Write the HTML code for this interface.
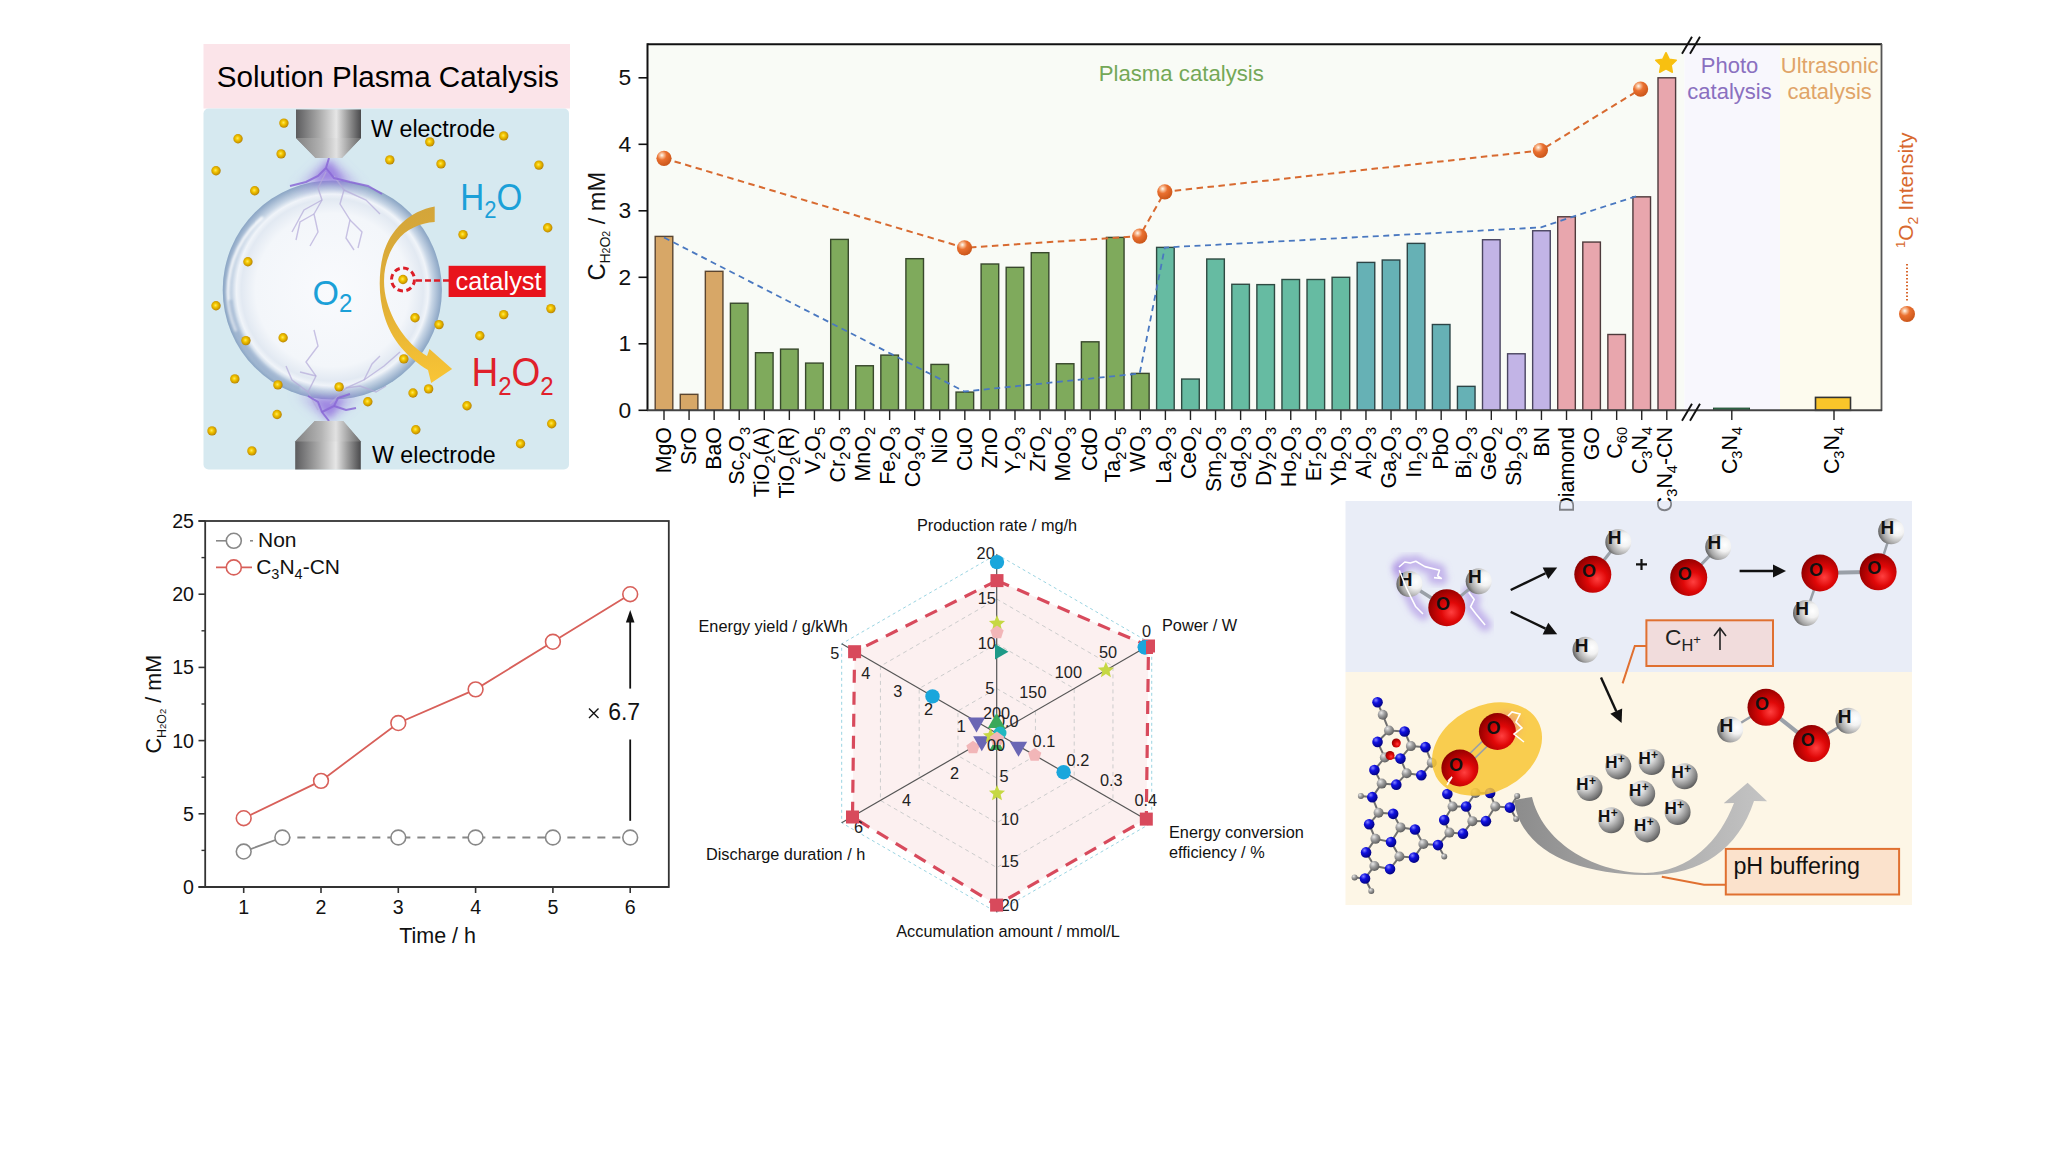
<!DOCTYPE html>
<html><head><meta charset="utf-8"><title>Solution Plasma Catalysis</title>
<style>html,body{margin:0;padding:0;background:#fff;width:2048px;height:1151px;overflow:hidden}svg{display:block}text{font-family:"Liberation Sans", sans-serif}</style>
</head><body>
<svg width="2048" height="1151" viewBox="0 0 2048 1151" font-family='"Liberation Sans", sans-serif'>

<defs>
 <radialGradient id="gOrange" cx="0.36" cy="0.3" r="0.75">
  <stop offset="0" stop-color="#fffaf2"/>
  <stop offset="0.2" stop-color="#f6b68c"/>
  <stop offset="0.42" stop-color="#ea7030"/>
  <stop offset="1" stop-color="#c85418"/>
 </radialGradient>
 <radialGradient id="gRed" cx="0.62" cy="0.62" r="0.75">
  <stop offset="0" stop-color="#ff4040"/>
  <stop offset="0.35" stop-color="#e00808"/>
  <stop offset="0.8" stop-color="#9a0000"/>
  <stop offset="1" stop-color="#6a0000"/>
 </radialGradient>
 <radialGradient id="gWhite" cx="0.75" cy="0.42" r="0.85">
  <stop offset="0" stop-color="#ffffff"/>
  <stop offset="0.3" stop-color="#f2f2f2"/>
  <stop offset="0.7" stop-color="#a4a4a4"/>
  <stop offset="1" stop-color="#3c3c3c"/>
 </radialGradient>
 <radialGradient id="gGray" cx="0.35" cy="0.3" r="0.85">
  <stop offset="0" stop-color="#ffffff"/>
  <stop offset="0.3" stop-color="#d8d8d8"/>
  <stop offset="0.75" stop-color="#7a7a7a"/>
  <stop offset="1" stop-color="#3a3a3a"/>
 </radialGradient>
 <radialGradient id="gGold" cx="0.45" cy="0.45" r="0.6">
  <stop offset="0" stop-color="#ffe860"/>
  <stop offset="0.35" stop-color="#f4c800"/>
  <stop offset="0.8" stop-color="#c89400"/>
  <stop offset="1" stop-color="#a07000"/>
 </radialGradient>
 <radialGradient id="gBlueN" cx="0.35" cy="0.3" r="0.8">
  <stop offset="0" stop-color="#8080ff"/>
  <stop offset="0.35" stop-color="#1010e0"/>
  <stop offset="1" stop-color="#000070"/>
 </radialGradient>
 <radialGradient id="gGrayC" cx="0.35" cy="0.3" r="0.8">
  <stop offset="0" stop-color="#e8e8e8"/>
  <stop offset="0.4" stop-color="#a0a0a0"/>
  <stop offset="1" stop-color="#505050"/>
 </radialGradient>
 <linearGradient id="gMetal" x1="0" y1="0" x2="1" y2="0">
  <stop offset="0" stop-color="#5c5c5e"/>
  <stop offset="0.35" stop-color="#a8a8a8"/>
  <stop offset="0.62" stop-color="#e6e6e6"/>
  <stop offset="0.8" stop-color="#9a9a9a"/>
  <stop offset="1" stop-color="#4a4a4c"/>
 </linearGradient>
 <linearGradient id="gMetal2" x1="0" y1="0" x2="1" y2="0">
  <stop offset="0" stop-color="#8a8a8a"/>
  <stop offset="0.4" stop-color="#b4b4b4"/>
  <stop offset="0.62" stop-color="#e0e0e0"/>
  <stop offset="0.85" stop-color="#9a9a9a"/>
  <stop offset="1" stop-color="#707070"/>
 </linearGradient>
 <radialGradient id="gBubble" cx="0.5" cy="0.5" r="0.5">
  <stop offset="0" stop-color="#f9fafd"/>
  <stop offset="0.7" stop-color="#f3f6fa"/>
  <stop offset="0.83" stop-color="#e2e9f2"/>
  <stop offset="0.875" stop-color="#f0f4f9"/>
  <stop offset="0.915" stop-color="#c8d6e6"/>
  <stop offset="0.97" stop-color="#a0b6d0"/>
  <stop offset="1" stop-color="#8aa5c4"/>
 </radialGradient>
 <radialGradient id="gGlow" cx="0.5" cy="0.5" r="0.5">
  <stop offset="0" stop-color="#9070e0" stop-opacity="0.75"/>
  <stop offset="0.5" stop-color="#a088e8" stop-opacity="0.4"/>
  <stop offset="1" stop-color="#b0a0f0" stop-opacity="0"/>
 </radialGradient>
 <linearGradient id="gYArrow" x1="0" y1="0" x2="0" y2="1">
  <stop offset="0" stop-color="#d3a53a"/>
  <stop offset="0.55" stop-color="#e2b036"/>
  <stop offset="1" stop-color="#f9c535"/>
 </linearGradient>
 <linearGradient id="gGArrow" x1="0" y1="0" x2="1" y2="0">
  <stop offset="0" stop-color="#8c8c8c"/>
  <stop offset="0.5" stop-color="#a8a8a8"/>
  <stop offset="1" stop-color="#c4c4c4"/>
 </linearGradient>
 <filter id="fBlur3" x="-50%" y="-50%" width="200%" height="200%"><feGaussianBlur stdDeviation="3"/></filter>
 <filter id="fBlur1" x="-50%" y="-50%" width="200%" height="200%"><feGaussianBlur stdDeviation="1"/></filter>
 <filter id="fBlur6" x="-50%" y="-50%" width="200%" height="200%"><feGaussianBlur stdDeviation="6"/></filter>
</defs>

<rect width="2048" height="1151" fill="#ffffff"/>
<rect x="203.5" y="44" width="366.5" height="64.5" fill="#fbe4e9"/>
<rect x="203.5" y="108.5" width="365.5" height="361" rx="5" fill="#d6e9f0"/>
<text x="216.8" y="87" font-size="29.6" fill="#000" text-anchor="start" >Solution Plasma Catalysis</text>
<circle cx="332.3" cy="290" r="109.6" fill="url(#gBubble)"/>
<path d="M 236 330 A 97 97 0 0 1 262 218" fill="none" stroke="#ffffff" stroke-opacity="0.85" stroke-width="3" stroke-linecap="round" filter="url(#fBlur1)"/>
<path d="M 300 388 A 104 104 0 0 1 230 300" fill="none" stroke="#7f9cbf" stroke-opacity="0.35" stroke-width="5" filter="url(#fBlur1)"/>
<path d="M329 158 L296 190 Q329 176 362 190 Z" fill="#9878e0" fill-opacity="0.6" filter="url(#fBlur6)"/>
<path d="M329 421 L296 392 Q329 406 362 392 Z" fill="#9878e0" fill-opacity="0.6" filter="url(#fBlur6)"/>
<path d="M329 160 L312 184 Q329 178 346 184 Z" fill="#8c68dc" fill-opacity="0.55" filter="url(#fBlur3)"/>
<path d="M329 419 L312 396 Q329 402 346 396 Z" fill="#8c68dc" fill-opacity="0.55" filter="url(#fBlur3)"/>
<path d="M326 172 L318 188 L322 200 L314 214 L318 232 L310 246" fill="none" stroke="#b4aad8" stroke-width="1.4" stroke-opacity="0.7"/>
<path d="M334 176 L344 190 L340 204 L350 220 L346 238 L354 250" fill="none" stroke="#b4aad8" stroke-width="1.4" stroke-opacity="0.7"/>
<path d="M322 200 L304 210 L292 232" fill="none" stroke="#b4aad8" stroke-width="1.4" stroke-opacity="0.7"/>
<path d="M344 190 L366 200 L380 214" fill="none" stroke="#b4aad8" stroke-width="1.4" stroke-opacity="0.7"/>
<path d="M314 214 L300 222 L296 240" fill="none" stroke="#b4aad8" stroke-width="1.4" stroke-opacity="0.7"/>
<path d="M350 220 L362 232 L358 248" fill="none" stroke="#b4aad8" stroke-width="1.4" stroke-opacity="0.7"/>
<path d="M318 410 L308 392 L316 376 L306 362 L318 346 L314 330" fill="none" stroke="#b4aad8" stroke-width="1.4" stroke-opacity="0.7"/>
<path d="M330 404 L346 388 L364 380 L384 366 L400 352" fill="none" stroke="#b4aad8" stroke-width="1.4" stroke-opacity="0.7"/>
<path d="M308 392 L292 380 L286 366" fill="none" stroke="#b4aad8" stroke-width="1.4" stroke-opacity="0.7"/>
<path d="M346 388 L360 386 L376 392 L386 386" fill="none" stroke="#b4aad8" stroke-width="1.4" stroke-opacity="0.7"/>
<path d="M316 376 L300 372" fill="none" stroke="#b4aad8" stroke-width="1.4" stroke-opacity="0.7"/>
<path d="M364 380 L372 364 L380 356" fill="none" stroke="#b4aad8" stroke-width="1.4" stroke-opacity="0.7"/>
<path d="M329 158 L326 168 L318 176 L306 182 L290 186" fill="none" stroke="#8a68d6" stroke-width="2" stroke-opacity="0.85"/>
<path d="M326 168 L334 178 L350 182 L368 186 L382 194" fill="none" stroke="#8a68d6" stroke-width="2" stroke-opacity="0.85"/>
<path d="M329 421 L322 412 L318 402 L308 396" fill="none" stroke="#8a68d6" stroke-width="2" stroke-opacity="0.85"/>
<path d="M322 412 L334 406 L338 398 L350 394" fill="none" stroke="#8a68d6" stroke-width="2" stroke-opacity="0.85"/>
<path d="M334 406 L346 410 L356 408" fill="none" stroke="#8a68d6" stroke-width="2" stroke-opacity="0.85"/>
<path d="M296 109.5 H361 V138 L342 158 H315.5 L296 138 Z" fill="url(#gMetal)"/>
<path d="M296 138 H361 L342 158 H315.5 Z" fill="url(#gMetal2)" opacity="0.8"/>
<path d="M314.7 421 H343.2 L360.8 441.5 V469.5 H295.2 V441.5 Z" fill="url(#gMetal)"/>
<path d="M314.7 421 H343.2 L360.8 441.5 H295.2 Z" fill="url(#gMetal2)" opacity="0.8"/>
<text x="371" y="137.2" font-size="23.3" fill="#000" text-anchor="start" >W electrode</text>
<text x="372" y="462.8" font-size="23.2" fill="#000" text-anchor="start" >W electrode</text>
<text transform="translate(312.5,304.6) scale(1,1.05)" x="0" y="0" font-size="34" fill="#1ba0d8">O<tspan font-size="24" dy="7.5">2</tspan></text>
<text transform="translate(460.3,209.7) scale(1,1.09)" x="0" y="0" font-size="33.2" fill="#1ba0d8">H<tspan font-size="22" dy="7.4">2</tspan><tspan dy="-7.4">O</tspan></text>
<path d="M434.7 206.5 C410 211, 390 229, 383 255 C378 276, 379 298, 384 315 C391 340, 408 358, 428 370 L431.2 383 L452.1 369 L429.5 349 L427 356 C410 346, 394 326, 387 302 C381 281, 384 258, 397 241 C406 229, 420 223, 434.7 222 Z" fill="url(#gYArrow)"/>
<circle cx="403" cy="279.5" r="11.5" fill="none" stroke="#dc1e28" stroke-width="3" stroke-dasharray="5.5 3.5"/>
<line x1="416" y1="280.5" x2="449" y2="280.5" stroke="#dc1e28" stroke-width="2.5" stroke-dasharray="6 3"/>
<rect x="448.6" y="265.8" width="97" height="31.2" fill="#e8141c"/>
<text x="455.5" y="289.8" font-size="25.4" fill="#ffffff" text-anchor="start" >catalyst</text>
<text transform="translate(471.5,386) scale(1,1.09)" x="0" y="0" font-size="37" fill="#e0202a">H<tspan font-size="24" dy="7.9">2</tspan><tspan dy="-7.9">O</tspan><tspan font-size="24" dy="7.9">2</tspan></text>
<circle cx="283.9" cy="123.1" r="4.7" fill="url(#gGold)"/>
<circle cx="238" cy="138.7" r="4.7" fill="url(#gGold)"/>
<circle cx="281.1" cy="153.9" r="4.7" fill="url(#gGold)"/>
<circle cx="216" cy="170.7" r="4.7" fill="url(#gGold)"/>
<circle cx="254.7" cy="190.7" r="4.7" fill="url(#gGold)"/>
<circle cx="389.8" cy="159.9" r="4.7" fill="url(#gGold)"/>
<circle cx="441" cy="163.9" r="4.7" fill="url(#gGold)"/>
<circle cx="429.8" cy="141.9" r="4.7" fill="url(#gGold)"/>
<circle cx="503.7" cy="135.9" r="4.7" fill="url(#gGold)"/>
<circle cx="538.9" cy="165.1" r="4.7" fill="url(#gGold)"/>
<circle cx="463" cy="234.6" r="4.7" fill="url(#gGold)"/>
<circle cx="547.7" cy="227.8" r="4.7" fill="url(#gGold)"/>
<circle cx="247.9" cy="261.8" r="4.7" fill="url(#gGold)"/>
<circle cx="216" cy="305.8" r="4.7" fill="url(#gGold)"/>
<circle cx="283.1" cy="337.8" r="4.7" fill="url(#gGold)"/>
<circle cx="245.9" cy="340.6" r="4.7" fill="url(#gGold)"/>
<circle cx="234.8" cy="378.9" r="4.7" fill="url(#gGold)"/>
<circle cx="277.9" cy="384.9" r="4.7" fill="url(#gGold)"/>
<circle cx="339.1" cy="386.9" r="4.7" fill="url(#gGold)"/>
<circle cx="367.8" cy="401.7" r="4.7" fill="url(#gGold)"/>
<circle cx="277.1" cy="414.5" r="4.7" fill="url(#gGold)"/>
<circle cx="212" cy="430.9" r="4.7" fill="url(#gGold)"/>
<circle cx="251.9" cy="450.9" r="4.7" fill="url(#gGold)"/>
<circle cx="413" cy="393" r="4.7" fill="url(#gGold)"/>
<circle cx="428.6" cy="388.9" r="4.7" fill="url(#gGold)"/>
<circle cx="467" cy="405.7" r="4.7" fill="url(#gGold)"/>
<circle cx="415.8" cy="429.7" r="4.7" fill="url(#gGold)"/>
<circle cx="520.5" cy="443.7" r="4.7" fill="url(#gGold)"/>
<circle cx="551.7" cy="423.7" r="4.7" fill="url(#gGold)"/>
<circle cx="503.7" cy="314.6" r="4.7" fill="url(#gGold)"/>
<circle cx="550.9" cy="308.6" r="4.7" fill="url(#gGold)"/>
<circle cx="479.8" cy="335.8" r="4.7" fill="url(#gGold)"/>
<circle cx="415" cy="317.8" r="4.7" fill="url(#gGold)"/>
<circle cx="439" cy="324.6" r="4.7" fill="url(#gGold)"/>
<circle cx="403.8" cy="358.9" r="4.7" fill="url(#gGold)"/>
<circle cx="403" cy="279.5" r="4.7" fill="url(#gGold)"/>
<rect x="648.5" y="45" width="1036" height="365" fill="#f9fbf6"/>
<rect x="1684.5" y="45" width="95.5" height="365" fill="#f8f7fd"/>
<rect x="1780" y="45" width="101" height="365" fill="#fdfbee"/>
<rect x="655.2" y="236.4" width="17.6" height="173.9" fill="#d7a767" stroke="#5a4530" stroke-width="1.4"/>
<rect x="680.27" y="394.34" width="17.6" height="15.96" fill="#d7a767" stroke="#5a4530" stroke-width="1.4"/>
<rect x="705.34" y="271.32" width="17.6" height="138.98" fill="#d7a767" stroke="#5a4530" stroke-width="1.4"/>
<rect x="730.41" y="303.24" width="17.6" height="107.07" fill="#7faa5c" stroke="#38482c" stroke-width="1.4"/>
<rect x="755.48" y="352.71" width="17.6" height="57.59" fill="#7faa5c" stroke="#38482c" stroke-width="1.4"/>
<rect x="780.55" y="349.12" width="17.6" height="61.18" fill="#7faa5c" stroke="#38482c" stroke-width="1.4"/>
<rect x="805.62" y="363.09" width="17.6" height="47.21" fill="#7faa5c" stroke="#38482c" stroke-width="1.4"/>
<rect x="830.69" y="239.4" width="17.6" height="170.91" fill="#7faa5c" stroke="#38482c" stroke-width="1.4"/>
<rect x="855.76" y="365.75" width="17.6" height="44.55" fill="#7faa5c" stroke="#38482c" stroke-width="1.4"/>
<rect x="880.83" y="355.11" width="17.6" height="55.2" fill="#7faa5c" stroke="#38482c" stroke-width="1.4"/>
<rect x="905.9" y="258.68" width="17.6" height="151.62" fill="#7faa5c" stroke="#38482c" stroke-width="1.4"/>
<rect x="930.97" y="364.42" width="17.6" height="45.88" fill="#7faa5c" stroke="#38482c" stroke-width="1.4"/>
<rect x="956.04" y="392.08" width="17.6" height="18.22" fill="#7faa5c" stroke="#38482c" stroke-width="1.4"/>
<rect x="981.11" y="264" width="17.6" height="146.3" fill="#7faa5c" stroke="#38482c" stroke-width="1.4"/>
<rect x="1006.18" y="267.33" width="17.6" height="142.97" fill="#7faa5c" stroke="#38482c" stroke-width="1.4"/>
<rect x="1031.25" y="252.69" width="17.6" height="157.61" fill="#7faa5c" stroke="#38482c" stroke-width="1.4"/>
<rect x="1056.32" y="363.75" width="17.6" height="46.55" fill="#7faa5c" stroke="#38482c" stroke-width="1.4"/>
<rect x="1081.39" y="341.81" width="17.6" height="68.5" fill="#7faa5c" stroke="#38482c" stroke-width="1.4"/>
<rect x="1106.46" y="237.4" width="17.6" height="172.9" fill="#7faa5c" stroke="#38482c" stroke-width="1.4"/>
<rect x="1131.53" y="373.39" width="17.6" height="36.91" fill="#7faa5c" stroke="#38482c" stroke-width="1.4"/>
<rect x="1156.6" y="247.38" width="17.6" height="162.93" fill="#66bba2" stroke="#2f4a42" stroke-width="1.4"/>
<rect x="1181.67" y="379.05" width="17.6" height="31.25" fill="#66bba2" stroke="#2f4a42" stroke-width="1.4"/>
<rect x="1206.74" y="259.01" width="17.6" height="151.29" fill="#66bba2" stroke="#2f4a42" stroke-width="1.4"/>
<rect x="1231.81" y="284.28" width="17.6" height="126.02" fill="#66bba2" stroke="#2f4a42" stroke-width="1.4"/>
<rect x="1256.88" y="284.62" width="17.6" height="125.68" fill="#66bba2" stroke="#2f4a42" stroke-width="1.4"/>
<rect x="1281.95" y="279.49" width="17.6" height="130.81" fill="#66bba2" stroke="#2f4a42" stroke-width="1.4"/>
<rect x="1307.02" y="279.49" width="17.6" height="130.81" fill="#66bba2" stroke="#2f4a42" stroke-width="1.4"/>
<rect x="1332.09" y="277.3" width="17.6" height="133" fill="#66bba2" stroke="#2f4a42" stroke-width="1.4"/>
<rect x="1357.16" y="262.4" width="17.6" height="147.9" fill="#66b1b5" stroke="#2c4446" stroke-width="1.4"/>
<rect x="1382.23" y="260.01" width="17.6" height="150.29" fill="#66b1b5" stroke="#2c4446" stroke-width="1.4"/>
<rect x="1407.3" y="243.39" width="17.6" height="166.91" fill="#66b1b5" stroke="#2c4446" stroke-width="1.4"/>
<rect x="1432.37" y="324.51" width="17.6" height="85.78" fill="#66b1b5" stroke="#2c4446" stroke-width="1.4"/>
<rect x="1457.44" y="386.36" width="17.6" height="23.94" fill="#66b1b5" stroke="#2c4446" stroke-width="1.4"/>
<rect x="1482.51" y="239.73" width="17.6" height="170.57" fill="#c2b4e6" stroke="#4a4560" stroke-width="1.4"/>
<rect x="1507.58" y="353.78" width="17.6" height="56.52" fill="#c2b4e6" stroke="#4a4560" stroke-width="1.4"/>
<rect x="1532.65" y="230.75" width="17.6" height="179.55" fill="#c2b4e6" stroke="#4a4560" stroke-width="1.4"/>
<rect x="1557.72" y="216.78" width="17.6" height="193.52" fill="#e8a6ad" stroke="#4e3a3c" stroke-width="1.4"/>
<rect x="1582.79" y="242.06" width="17.6" height="168.24" fill="#e8a6ad" stroke="#4e3a3c" stroke-width="1.4"/>
<rect x="1607.86" y="334.49" width="17.6" height="75.81" fill="#e8a6ad" stroke="#4e3a3c" stroke-width="1.4"/>
<rect x="1632.93" y="196.84" width="17.6" height="213.47" fill="#e8a6ad" stroke="#4e3a3c" stroke-width="1.4"/>
<rect x="1658" y="77.8" width="17.6" height="332.5" fill="#e8a6ad" stroke="#4e3a3c" stroke-width="1.4"/>
<rect x="1713.5" y="408.1" width="36" height="2.2" fill="#2e7a4e" stroke="#1e4a30" stroke-width="1"/>
<rect x="1815.5" y="397.4" width="35" height="12.9" fill="#f9c52a" stroke="#333" stroke-width="1.6"/>
<polyline points="664,237.5 964.5,391.5 1139.7,373.5 1164.8,247.5 1541,227.4 1570.8,217.4 1639.6,195.2" fill="none" stroke="#4a78c0" stroke-width="1.8" stroke-dasharray="6 4.5"/>
<polyline points="664,158.3 964.5,247.8 1139.7,236.1 1164.8,191.8 1540.4,150.5 1640.6,89.1" fill="none" stroke="#d86a30" stroke-width="2" stroke-dasharray="6.5 4.5"/>
<circle cx="664" cy="158.3" r="7.6" fill="url(#gOrange)"/>
<circle cx="964.5" cy="247.8" r="7.6" fill="url(#gOrange)"/>
<circle cx="1139.7" cy="236.1" r="7.6" fill="url(#gOrange)"/>
<circle cx="1164.8" cy="191.8" r="7.6" fill="url(#gOrange)"/>
<circle cx="1540.4" cy="150.5" r="7.6" fill="url(#gOrange)"/>
<circle cx="1640.6" cy="89.1" r="7.6" fill="url(#gOrange)"/>
<polygon points="1666,52.7 1669.17,59.13 1676.27,60.16 1671.14,65.17 1672.35,72.24 1666,68.9 1659.65,72.24 1660.86,65.17 1655.73,60.16 1662.83,59.13" fill="#f8c010" stroke="#f8c010" stroke-width="1.5" stroke-linejoin="round"/>
<line x1="647.5" y1="44.3" x2="1882" y2="44.3" stroke="#111" stroke-width="2"/>
<line x1="647.5" y1="43.3" x2="647.5" y2="411" stroke="#111" stroke-width="2"/>
<line x1="1881.5" y1="44" x2="1881.5" y2="411" stroke="#555" stroke-width="1.8"/>
<line x1="647" y1="410.3" x2="1882" y2="410.3" stroke="#444" stroke-width="2"/>
<line x1="1682" y1="53.8" x2="1692" y2="36.8" stroke="#111" stroke-width="1.9"/>
<line x1="1690" y1="53.8" x2="1700" y2="36.8" stroke="#111" stroke-width="1.9"/>
<line x1="1682" y1="420.8" x2="1692" y2="403.8" stroke="#111" stroke-width="1.9"/>
<line x1="1690" y1="420.8" x2="1700" y2="403.8" stroke="#111" stroke-width="1.9"/>
<line x1="638.5" y1="410.3" x2="647.5" y2="410.3" stroke="#111" stroke-width="1.6"/>
<text x="631.3" y="417.9" font-size="22.8" fill="#111" text-anchor="end" >0</text>
<line x1="638.5" y1="343.8" x2="647.5" y2="343.8" stroke="#111" stroke-width="1.6"/>
<text x="631.3" y="351.4" font-size="22.8" fill="#111" text-anchor="end" >1</text>
<line x1="638.5" y1="277.3" x2="647.5" y2="277.3" stroke="#111" stroke-width="1.6"/>
<text x="631.3" y="284.9" font-size="22.8" fill="#111" text-anchor="end" >2</text>
<line x1="638.5" y1="210.8" x2="647.5" y2="210.8" stroke="#111" stroke-width="1.6"/>
<text x="631.3" y="218.4" font-size="22.8" fill="#111" text-anchor="end" >3</text>
<line x1="638.5" y1="144.3" x2="647.5" y2="144.3" stroke="#111" stroke-width="1.6"/>
<text x="631.3" y="151.9" font-size="22.8" fill="#111" text-anchor="end" >4</text>
<line x1="638.5" y1="77.8" x2="647.5" y2="77.8" stroke="#111" stroke-width="1.6"/>
<text x="631.3" y="85.4" font-size="22.8" fill="#111" text-anchor="end" >5</text>
<line x1="664" y1="410.3" x2="664" y2="420" stroke="#222" stroke-width="1.4"/>
<line x1="689.07" y1="410.3" x2="689.07" y2="420" stroke="#222" stroke-width="1.4"/>
<line x1="714.14" y1="410.3" x2="714.14" y2="420" stroke="#222" stroke-width="1.4"/>
<line x1="739.21" y1="410.3" x2="739.21" y2="420" stroke="#222" stroke-width="1.4"/>
<line x1="764.28" y1="410.3" x2="764.28" y2="420" stroke="#222" stroke-width="1.4"/>
<line x1="789.35" y1="410.3" x2="789.35" y2="420" stroke="#222" stroke-width="1.4"/>
<line x1="814.42" y1="410.3" x2="814.42" y2="420" stroke="#222" stroke-width="1.4"/>
<line x1="839.49" y1="410.3" x2="839.49" y2="420" stroke="#222" stroke-width="1.4"/>
<line x1="864.56" y1="410.3" x2="864.56" y2="420" stroke="#222" stroke-width="1.4"/>
<line x1="889.63" y1="410.3" x2="889.63" y2="420" stroke="#222" stroke-width="1.4"/>
<line x1="914.7" y1="410.3" x2="914.7" y2="420" stroke="#222" stroke-width="1.4"/>
<line x1="939.77" y1="410.3" x2="939.77" y2="420" stroke="#222" stroke-width="1.4"/>
<line x1="964.84" y1="410.3" x2="964.84" y2="420" stroke="#222" stroke-width="1.4"/>
<line x1="989.91" y1="410.3" x2="989.91" y2="420" stroke="#222" stroke-width="1.4"/>
<line x1="1014.98" y1="410.3" x2="1014.98" y2="420" stroke="#222" stroke-width="1.4"/>
<line x1="1040.05" y1="410.3" x2="1040.05" y2="420" stroke="#222" stroke-width="1.4"/>
<line x1="1065.12" y1="410.3" x2="1065.12" y2="420" stroke="#222" stroke-width="1.4"/>
<line x1="1090.19" y1="410.3" x2="1090.19" y2="420" stroke="#222" stroke-width="1.4"/>
<line x1="1115.26" y1="410.3" x2="1115.26" y2="420" stroke="#222" stroke-width="1.4"/>
<line x1="1140.33" y1="410.3" x2="1140.33" y2="420" stroke="#222" stroke-width="1.4"/>
<line x1="1165.4" y1="410.3" x2="1165.4" y2="420" stroke="#222" stroke-width="1.4"/>
<line x1="1190.47" y1="410.3" x2="1190.47" y2="420" stroke="#222" stroke-width="1.4"/>
<line x1="1215.54" y1="410.3" x2="1215.54" y2="420" stroke="#222" stroke-width="1.4"/>
<line x1="1240.61" y1="410.3" x2="1240.61" y2="420" stroke="#222" stroke-width="1.4"/>
<line x1="1265.68" y1="410.3" x2="1265.68" y2="420" stroke="#222" stroke-width="1.4"/>
<line x1="1290.75" y1="410.3" x2="1290.75" y2="420" stroke="#222" stroke-width="1.4"/>
<line x1="1315.82" y1="410.3" x2="1315.82" y2="420" stroke="#222" stroke-width="1.4"/>
<line x1="1340.89" y1="410.3" x2="1340.89" y2="420" stroke="#222" stroke-width="1.4"/>
<line x1="1365.96" y1="410.3" x2="1365.96" y2="420" stroke="#222" stroke-width="1.4"/>
<line x1="1391.03" y1="410.3" x2="1391.03" y2="420" stroke="#222" stroke-width="1.4"/>
<line x1="1416.1" y1="410.3" x2="1416.1" y2="420" stroke="#222" stroke-width="1.4"/>
<line x1="1441.17" y1="410.3" x2="1441.17" y2="420" stroke="#222" stroke-width="1.4"/>
<line x1="1466.24" y1="410.3" x2="1466.24" y2="420" stroke="#222" stroke-width="1.4"/>
<line x1="1491.31" y1="410.3" x2="1491.31" y2="420" stroke="#222" stroke-width="1.4"/>
<line x1="1516.38" y1="410.3" x2="1516.38" y2="420" stroke="#222" stroke-width="1.4"/>
<line x1="1541.45" y1="410.3" x2="1541.45" y2="420" stroke="#222" stroke-width="1.4"/>
<line x1="1566.52" y1="410.3" x2="1566.52" y2="420" stroke="#222" stroke-width="1.4"/>
<line x1="1591.59" y1="410.3" x2="1591.59" y2="420" stroke="#222" stroke-width="1.4"/>
<line x1="1616.66" y1="410.3" x2="1616.66" y2="420" stroke="#222" stroke-width="1.4"/>
<line x1="1641.73" y1="410.3" x2="1641.73" y2="420" stroke="#222" stroke-width="1.4"/>
<line x1="1666.8" y1="410.3" x2="1666.8" y2="420" stroke="#222" stroke-width="1.4"/>
<line x1="1731.8" y1="410.3" x2="1731.8" y2="420" stroke="#222" stroke-width="1.4"/>
<line x1="1834" y1="410.3" x2="1834" y2="420" stroke="#222" stroke-width="1.4"/>
<text transform="translate(671.3,427) rotate(-90)" x="0" y="0" font-size="21.4" text-anchor="end">MgO</text>
<text transform="translate(696.37,427) rotate(-90)" x="0" y="0" font-size="21.4" text-anchor="end">SrO</text>
<text transform="translate(721.44,427) rotate(-90)" x="0" y="0" font-size="21.4" text-anchor="end">BaO</text>
<text transform="translate(744.31,427) rotate(-90)" x="0" y="0" font-size="21.4" text-anchor="end">Sc<tspan font-size="14.55" dy="5.35">2</tspan><tspan dy="-5.35">O</tspan><tspan font-size="14.55" dy="5.35">3</tspan><tspan dy="-5.35"></tspan></text>
<text transform="translate(769.38,427) rotate(-90)" x="0" y="0" font-size="21.4" text-anchor="end">TiO<tspan font-size="14.55" dy="5.35">2</tspan><tspan dy="-5.35">(A)</tspan></text>
<text transform="translate(794.45,427) rotate(-90)" x="0" y="0" font-size="21.4" text-anchor="end">TiO<tspan font-size="14.55" dy="5.35">2</tspan><tspan dy="-5.35">(R)</tspan></text>
<text transform="translate(819.52,427) rotate(-90)" x="0" y="0" font-size="21.4" text-anchor="end">V<tspan font-size="14.55" dy="5.35">2</tspan><tspan dy="-5.35">O</tspan><tspan font-size="14.55" dy="5.35">5</tspan><tspan dy="-5.35"></tspan></text>
<text transform="translate(844.59,427) rotate(-90)" x="0" y="0" font-size="21.4" text-anchor="end">Cr<tspan font-size="14.55" dy="5.35">2</tspan><tspan dy="-5.35">O</tspan><tspan font-size="14.55" dy="5.35">3</tspan><tspan dy="-5.35"></tspan></text>
<text transform="translate(869.66,427) rotate(-90)" x="0" y="0" font-size="21.4" text-anchor="end">MnO<tspan font-size="14.55" dy="5.35">2</tspan><tspan dy="-5.35"></tspan></text>
<text transform="translate(894.73,427) rotate(-90)" x="0" y="0" font-size="21.4" text-anchor="end">Fe<tspan font-size="14.55" dy="5.35">2</tspan><tspan dy="-5.35">O</tspan><tspan font-size="14.55" dy="5.35">3</tspan><tspan dy="-5.35"></tspan></text>
<text transform="translate(919.8,427) rotate(-90)" x="0" y="0" font-size="21.4" text-anchor="end">Co<tspan font-size="14.55" dy="5.35">3</tspan><tspan dy="-5.35">O</tspan><tspan font-size="14.55" dy="5.35">4</tspan><tspan dy="-5.35"></tspan></text>
<text transform="translate(947.07,427) rotate(-90)" x="0" y="0" font-size="21.4" text-anchor="end">NiO</text>
<text transform="translate(972.14,427) rotate(-90)" x="0" y="0" font-size="21.4" text-anchor="end">CuO</text>
<text transform="translate(997.21,427) rotate(-90)" x="0" y="0" font-size="21.4" text-anchor="end">ZnO</text>
<text transform="translate(1020.08,427) rotate(-90)" x="0" y="0" font-size="21.4" text-anchor="end">Y<tspan font-size="14.55" dy="5.35">2</tspan><tspan dy="-5.35">O</tspan><tspan font-size="14.55" dy="5.35">3</tspan><tspan dy="-5.35"></tspan></text>
<text transform="translate(1045.15,427) rotate(-90)" x="0" y="0" font-size="21.4" text-anchor="end">ZrO<tspan font-size="14.55" dy="5.35">2</tspan><tspan dy="-5.35"></tspan></text>
<text transform="translate(1070.22,427) rotate(-90)" x="0" y="0" font-size="21.4" text-anchor="end">MoO<tspan font-size="14.55" dy="5.35">3</tspan><tspan dy="-5.35"></tspan></text>
<text transform="translate(1097.49,427) rotate(-90)" x="0" y="0" font-size="21.4" text-anchor="end">CdO</text>
<text transform="translate(1120.36,427) rotate(-90)" x="0" y="0" font-size="21.4" text-anchor="end">Ta<tspan font-size="14.55" dy="5.35">2</tspan><tspan dy="-5.35">O</tspan><tspan font-size="14.55" dy="5.35">5</tspan><tspan dy="-5.35"></tspan></text>
<text transform="translate(1145.43,427) rotate(-90)" x="0" y="0" font-size="21.4" text-anchor="end">WO<tspan font-size="14.55" dy="5.35">3</tspan><tspan dy="-5.35"></tspan></text>
<text transform="translate(1170.5,427) rotate(-90)" x="0" y="0" font-size="21.4" text-anchor="end">La<tspan font-size="14.55" dy="5.35">2</tspan><tspan dy="-5.35">O</tspan><tspan font-size="14.55" dy="5.35">3</tspan><tspan dy="-5.35"></tspan></text>
<text transform="translate(1195.57,427) rotate(-90)" x="0" y="0" font-size="21.4" text-anchor="end">CeO<tspan font-size="14.55" dy="5.35">2</tspan><tspan dy="-5.35"></tspan></text>
<text transform="translate(1220.64,427) rotate(-90)" x="0" y="0" font-size="21.4" text-anchor="end">Sm<tspan font-size="14.55" dy="5.35">2</tspan><tspan dy="-5.35">O</tspan><tspan font-size="14.55" dy="5.35">3</tspan><tspan dy="-5.35"></tspan></text>
<text transform="translate(1245.71,427) rotate(-90)" x="0" y="0" font-size="21.4" text-anchor="end">Gd<tspan font-size="14.55" dy="5.35">2</tspan><tspan dy="-5.35">O</tspan><tspan font-size="14.55" dy="5.35">3</tspan><tspan dy="-5.35"></tspan></text>
<text transform="translate(1270.78,427) rotate(-90)" x="0" y="0" font-size="21.4" text-anchor="end">Dy<tspan font-size="14.55" dy="5.35">2</tspan><tspan dy="-5.35">O</tspan><tspan font-size="14.55" dy="5.35">3</tspan><tspan dy="-5.35"></tspan></text>
<text transform="translate(1295.85,427) rotate(-90)" x="0" y="0" font-size="21.4" text-anchor="end">Ho<tspan font-size="14.55" dy="5.35">2</tspan><tspan dy="-5.35">O</tspan><tspan font-size="14.55" dy="5.35">3</tspan><tspan dy="-5.35"></tspan></text>
<text transform="translate(1320.92,427) rotate(-90)" x="0" y="0" font-size="21.4" text-anchor="end">Er<tspan font-size="14.55" dy="5.35">2</tspan><tspan dy="-5.35">O</tspan><tspan font-size="14.55" dy="5.35">3</tspan><tspan dy="-5.35"></tspan></text>
<text transform="translate(1345.99,427) rotate(-90)" x="0" y="0" font-size="21.4" text-anchor="end">Yb<tspan font-size="14.55" dy="5.35">2</tspan><tspan dy="-5.35">O</tspan><tspan font-size="14.55" dy="5.35">3</tspan><tspan dy="-5.35"></tspan></text>
<text transform="translate(1371.06,427) rotate(-90)" x="0" y="0" font-size="21.4" text-anchor="end">Al<tspan font-size="14.55" dy="5.35">2</tspan><tspan dy="-5.35">O</tspan><tspan font-size="14.55" dy="5.35">3</tspan><tspan dy="-5.35"></tspan></text>
<text transform="translate(1396.13,427) rotate(-90)" x="0" y="0" font-size="21.4" text-anchor="end">Ga<tspan font-size="14.55" dy="5.35">2</tspan><tspan dy="-5.35">O</tspan><tspan font-size="14.55" dy="5.35">3</tspan><tspan dy="-5.35"></tspan></text>
<text transform="translate(1421.2,427) rotate(-90)" x="0" y="0" font-size="21.4" text-anchor="end">In<tspan font-size="14.55" dy="5.35">2</tspan><tspan dy="-5.35">O</tspan><tspan font-size="14.55" dy="5.35">3</tspan><tspan dy="-5.35"></tspan></text>
<text transform="translate(1448.47,427) rotate(-90)" x="0" y="0" font-size="21.4" text-anchor="end">PbO</text>
<text transform="translate(1471.34,427) rotate(-90)" x="0" y="0" font-size="21.4" text-anchor="end">Bi<tspan font-size="14.55" dy="5.35">2</tspan><tspan dy="-5.35">O</tspan><tspan font-size="14.55" dy="5.35">3</tspan><tspan dy="-5.35"></tspan></text>
<text transform="translate(1496.41,427) rotate(-90)" x="0" y="0" font-size="21.4" text-anchor="end">GeO<tspan font-size="14.55" dy="5.35">2</tspan><tspan dy="-5.35"></tspan></text>
<text transform="translate(1521.48,427) rotate(-90)" x="0" y="0" font-size="21.4" text-anchor="end">Sb<tspan font-size="14.55" dy="5.35">2</tspan><tspan dy="-5.35">O</tspan><tspan font-size="14.55" dy="5.35">3</tspan><tspan dy="-5.35"></tspan></text>
<text transform="translate(1548.75,427) rotate(-90)" x="0" y="0" font-size="21.4" text-anchor="end">BN</text>
<text transform="translate(1573.82,427) rotate(-90)" x="0" y="0" font-size="21.4" text-anchor="end">Diamond</text>
<text transform="translate(1598.89,427) rotate(-90)" x="0" y="0" font-size="21.4" text-anchor="end">GO</text>
<text transform="translate(1621.76,427) rotate(-90)" x="0" y="0" font-size="21.4" text-anchor="end">C<tspan font-size="14.55" dy="5.35">60</tspan><tspan dy="-5.35"></tspan></text>
<text transform="translate(1646.83,427) rotate(-90)" x="0" y="0" font-size="21.4" text-anchor="end">C<tspan font-size="14.55" dy="5.35">3</tspan><tspan dy="-5.35">N</tspan><tspan font-size="14.55" dy="5.35">4</tspan><tspan dy="-5.35"></tspan></text>
<text transform="translate(1671.9,427) rotate(-90)" x="0" y="0" font-size="21.4" text-anchor="end">C<tspan font-size="14.55" dy="5.35">3</tspan><tspan dy="-5.35">N</tspan><tspan font-size="14.55" dy="5.35">4</tspan><tspan dy="-5.35">-CN</tspan></text>
<text transform="translate(1736.9,427) rotate(-90)" x="0" y="0" font-size="21.4" text-anchor="end">C<tspan font-size="14.55" dy="5.35">3</tspan><tspan dy="-5.35">N</tspan><tspan font-size="14.55" dy="5.35">4</tspan><tspan dy="-5.35"></tspan></text>
<text transform="translate(1839.1,427) rotate(-90)" x="0" y="0" font-size="21.4" text-anchor="end">C<tspan font-size="14.55" dy="5.35">3</tspan><tspan dy="-5.35">N</tspan><tspan font-size="14.55" dy="5.35">4</tspan><tspan dy="-5.35"></tspan></text>
<text transform="translate(604.5,280.6) rotate(-90)" font-size="23.6" fill="#111">C<tspan font-size="14" dy="5">H</tspan><tspan font-size="10.5">2</tspan><tspan font-size="14">O</tspan><tspan font-size="10.5">2</tspan><tspan dy="-5"> / mM</tspan></text>
<text x="1181.3" y="80.5" font-size="22.2" fill="#74a858" text-anchor="middle" >Plasma catalysis</text>
<text x="1729.5" y="72.8" font-size="22" fill="#8a70c0" text-anchor="middle" >Photo</text>
<text x="1729.5" y="99.4" font-size="22" fill="#8a70c0" text-anchor="middle" >catalysis</text>
<text x="1829.7" y="72.8" font-size="22" fill="#e0a468" text-anchor="middle" >Ultrasonic</text>
<text x="1829.7" y="99.4" font-size="22" fill="#e0a468" text-anchor="middle" >catalysis</text>
<text transform="translate(1913.2,248) rotate(-90)" font-size="21" fill="#d8682e"><tspan font-size="13" dy="-8">1</tspan><tspan dy="8">O</tspan><tspan font-size="14" dy="5">2</tspan><tspan dy="-5"> Intensity</tspan></text>
<line x1="1907" y1="264" x2="1907" y2="301" stroke="#d8682e" stroke-width="2" stroke-dasharray="1.5 2"/>
<circle cx="1907" cy="314" r="8" fill="url(#gOrange)"/>
<rect x="205.2" y="521.0" width="463.6" height="366" fill="#ffffff" stroke="#333" stroke-width="1.8"/>
<line x1="198.5" y1="887.0" x2="668.8" y2="887.0" stroke="#333" stroke-width="1.8"/>
<line x1="198.5" y1="521.0" x2="205.2" y2="521.0" stroke="#333" stroke-width="1.8"/>
<line x1="198.5" y1="887" x2="205.2" y2="887" stroke="#333" stroke-width="1.6"/>
<text x="194" y="894" font-size="19.6" fill="#111" text-anchor="end" >0</text>
<line x1="198.5" y1="813.8" x2="205.2" y2="813.8" stroke="#333" stroke-width="1.6"/>
<text x="194" y="820.8" font-size="19.6" fill="#111" text-anchor="end" >5</text>
<line x1="198.5" y1="740.6" x2="205.2" y2="740.6" stroke="#333" stroke-width="1.6"/>
<text x="194" y="747.6" font-size="19.6" fill="#111" text-anchor="end" >10</text>
<line x1="198.5" y1="667.4" x2="205.2" y2="667.4" stroke="#333" stroke-width="1.6"/>
<text x="194" y="674.4" font-size="19.6" fill="#111" text-anchor="end" >15</text>
<line x1="198.5" y1="594.2" x2="205.2" y2="594.2" stroke="#333" stroke-width="1.6"/>
<text x="194" y="601.2" font-size="19.6" fill="#111" text-anchor="end" >20</text>
<line x1="198.5" y1="521" x2="205.2" y2="521" stroke="#333" stroke-width="1.6"/>
<text x="194" y="528" font-size="19.6" fill="#111" text-anchor="end" >25</text>
<line x1="201.5" y1="850.4" x2="205.2" y2="850.4" stroke="#333" stroke-width="1.4"/>
<line x1="201.5" y1="777.2" x2="205.2" y2="777.2" stroke="#333" stroke-width="1.4"/>
<line x1="201.5" y1="704" x2="205.2" y2="704" stroke="#333" stroke-width="1.4"/>
<line x1="201.5" y1="630.8" x2="205.2" y2="630.8" stroke="#333" stroke-width="1.4"/>
<line x1="201.5" y1="557.6" x2="205.2" y2="557.6" stroke="#333" stroke-width="1.4"/>
<line x1="243.7" y1="887.0" x2="243.7" y2="893" stroke="#333" stroke-width="1.6"/>
<text x="243.7" y="913.8" font-size="19.6" fill="#111" text-anchor="middle" >1</text>
<line x1="321" y1="887.0" x2="321" y2="893" stroke="#333" stroke-width="1.6"/>
<text x="321" y="913.8" font-size="19.6" fill="#111" text-anchor="middle" >2</text>
<line x1="398.3" y1="887.0" x2="398.3" y2="893" stroke="#333" stroke-width="1.6"/>
<text x="398.3" y="913.8" font-size="19.6" fill="#111" text-anchor="middle" >3</text>
<line x1="475.6" y1="887.0" x2="475.6" y2="893" stroke="#333" stroke-width="1.6"/>
<text x="475.6" y="913.8" font-size="19.6" fill="#111" text-anchor="middle" >4</text>
<line x1="552.9" y1="887.0" x2="552.9" y2="893" stroke="#333" stroke-width="1.6"/>
<text x="552.9" y="913.8" font-size="19.6" fill="#111" text-anchor="middle" >5</text>
<line x1="630.2" y1="887.0" x2="630.2" y2="893" stroke="#333" stroke-width="1.6"/>
<text x="630.2" y="913.8" font-size="19.6" fill="#111" text-anchor="middle" >6</text>
<text x="437.6" y="942.9" font-size="21.5" fill="#111" text-anchor="middle" >Time / h</text>
<text transform="translate(161.3,753.5) rotate(-90)" font-size="21.5" fill="#111">C<tspan font-size="12.5" dy="4.5">H</tspan><tspan font-size="9.5">2</tspan><tspan font-size="12.5">O</tspan><tspan font-size="9.5">2</tspan><tspan dy="-4.5"> / mM</tspan></text>
<line x1="216" y1="540.8" x2="226" y2="540.8" stroke="#888" stroke-width="1.6"/>
<line x1="250" y1="540.8" x2="253" y2="540.8" stroke="#888" stroke-width="1.6"/>
<circle cx="233.8" cy="540.8" r="7.5" fill="#fff" stroke="#888" stroke-width="1.6"/>
<text x="258" y="547" font-size="21" fill="#111" text-anchor="start" >Non</text>
<line x1="216" y1="567.4" x2="252" y2="567.4" stroke="#d8605a" stroke-width="1.6"/>
<circle cx="233.8" cy="567.4" r="7.5" fill="#fff" stroke="#d8605a" stroke-width="1.6"/>
<text x="256.2" y="574.4" font-size="21" fill="#111">C<tspan font-size="14.5" dy="4.5">3</tspan><tspan dy="-4.5">N</tspan><tspan font-size="14.5" dy="4.5">4</tspan><tspan dy="-4.5">-CN</tspan></text>
<line x1="243.7" y1="851.57" x2="282.35" y2="837.52" stroke="#888" stroke-width="1.8"/>
<line x1="282.35" y1="837.52" x2="630.2" y2="837.52" stroke="#888" stroke-width="1.8" stroke-dasharray="8 7"/>
<polyline points="243.7,818.19 321,780.86 398.3,723.03 475.6,689.36 552.9,641.78 630.2,594.2" fill="none" stroke="#d8605a" stroke-width="1.8"/>
<circle cx="243.7" cy="851.57" r="7.4" fill="#fff" stroke="#888" stroke-width="1.6"/>
<circle cx="282.35" cy="837.52" r="7.4" fill="#fff" stroke="#888" stroke-width="1.6"/>
<circle cx="398.3" cy="837.52" r="7.4" fill="#fff" stroke="#888" stroke-width="1.6"/>
<circle cx="475.6" cy="837.52" r="7.4" fill="#fff" stroke="#888" stroke-width="1.6"/>
<circle cx="552.9" cy="837.52" r="7.4" fill="#fff" stroke="#888" stroke-width="1.6"/>
<circle cx="630.2" cy="837.52" r="7.4" fill="#fff" stroke="#888" stroke-width="1.6"/>
<circle cx="243.7" cy="818.19" r="7.4" fill="#fff" stroke="#d8605a" stroke-width="1.6"/>
<circle cx="321" cy="780.86" r="7.4" fill="#fff" stroke="#d8605a" stroke-width="1.6"/>
<circle cx="398.3" cy="723.03" r="7.4" fill="#fff" stroke="#d8605a" stroke-width="1.6"/>
<circle cx="475.6" cy="689.36" r="7.4" fill="#fff" stroke="#d8605a" stroke-width="1.6"/>
<circle cx="552.9" cy="641.78" r="7.4" fill="#fff" stroke="#d8605a" stroke-width="1.6"/>
<circle cx="630.2" cy="594.2" r="7.4" fill="#fff" stroke="#d8605a" stroke-width="1.6"/>
<line x1="630.2" y1="820.8" x2="630.2" y2="739.5" stroke="#111" stroke-width="1.8"/>
<line x1="630.2" y1="688.6" x2="630.2" y2="621" stroke="#111" stroke-width="1.8"/>
<polygon points="630.2,610 625.9,622.5 634.5,622.5" fill="#111"/>
<text x="608.2" y="720" font-size="23" fill="#111" text-anchor="start" >6.7</text>
<path d="M589 708.5 L598.5 718 M598.5 708.5 L589 718" stroke="#111" stroke-width="1.4"/>
<polygon points="997,580.6 1148.5,646 1146.3,819.1 996.6,905.1 852.5,817 854.6,651.7" fill="#fcf0f0"/>
<polygon points="996.7,688.55 1035.45,710.92 1035.45,755.67 996.7,778.05 957.95,755.67 957.95,710.92" fill="none" stroke="#cccccc" stroke-width="1" stroke-dasharray="4 3.5"/>
<polygon points="996.7,643.8 1074.21,688.55 1074.21,778.05 996.7,822.8 919.19,778.05 919.19,688.55" fill="none" stroke="#cccccc" stroke-width="1" stroke-dasharray="4 3.5"/>
<polygon points="996.7,599.05 1112.96,666.17 1112.96,800.42 996.7,867.55 880.44,800.42 880.44,666.17" fill="none" stroke="#cccccc" stroke-width="1" stroke-dasharray="4 3.5"/>
<polygon points="996.7,554.3 1151.72,643.8 1151.72,822.8 996.7,912.3 841.68,822.8 841.68,643.8" fill="none" stroke="#9ad4e2" stroke-width="1" stroke-dasharray="3 3"/>
<line x1="996.7" y1="733.3" x2="996.7" y2="554.3" stroke="#555" stroke-width="1.2"/>
<line x1="996.7" y1="733.3" x2="1151.72" y2="643.8" stroke="#555" stroke-width="1.2"/>
<line x1="996.7" y1="733.3" x2="1151.72" y2="822.8" stroke="#555" stroke-width="1.2"/>
<line x1="996.7" y1="733.3" x2="996.7" y2="912.3" stroke="#555" stroke-width="1.2"/>
<line x1="996.7" y1="733.3" x2="841.68" y2="822.8" stroke="#555" stroke-width="1.2"/>
<line x1="996.7" y1="733.3" x2="841.68" y2="643.8" stroke="#555" stroke-width="1.2"/>
<polygon points="997,580.6 1148.5,646 1146.3,819.1 996.6,905.1 852.5,817 854.6,651.7" fill="none" stroke="#d84a5c" stroke-width="3.2" stroke-dasharray="13 9"/>
<text x="976.6" y="558.9" font-size="16.3" fill="#222" text-anchor="start" >20</text>
<text x="977.7" y="603.9" font-size="16.3" fill="#222" text-anchor="start" >15</text>
<text x="977.7" y="649" font-size="16.3" fill="#222" text-anchor="start" >10</text>
<text x="985.3" y="694.2" font-size="16.3" fill="#222" text-anchor="start" >5</text>
<text x="983" y="718.6" font-size="16.3" fill="#222" text-anchor="start" >200</text>
<text x="1141.9" y="636.9" font-size="16.3" fill="#222" text-anchor="start" >0</text>
<text x="1099" y="657.6" font-size="16.3" fill="#222" text-anchor="start" >50</text>
<text x="1054.8" y="678.3" font-size="16.3" fill="#222" text-anchor="start" >100</text>
<text x="1019.3" y="697.5" font-size="16.3" fill="#222" text-anchor="start" >150</text>
<text x="996" y="727" font-size="16.3" fill="#222" text-anchor="start" >0.0</text>
<text x="830.3" y="659" font-size="16.3" fill="#222" text-anchor="start" >5</text>
<text x="861.3" y="679.2" font-size="16.3" fill="#222" text-anchor="start" >4</text>
<text x="893.2" y="696.9" font-size="16.3" fill="#222" text-anchor="start" >3</text>
<text x="924" y="714.6" font-size="16.3" fill="#222" text-anchor="start" >2</text>
<text x="956.7" y="732.3" font-size="16.3" fill="#222" text-anchor="start" >1</text>
<text x="950" y="778.7" font-size="16.3" fill="#222" text-anchor="start" >2</text>
<text x="902.1" y="805.8" font-size="16.3" fill="#222" text-anchor="start" >4</text>
<text x="854" y="833.3" font-size="16.3" fill="#222" text-anchor="start" >6</text>
<text x="1032.6" y="746.8" font-size="16.3" fill="#222" text-anchor="start" >0.1</text>
<text x="1066.6" y="766.3" font-size="16.3" fill="#222" text-anchor="start" >0.2</text>
<text x="1100" y="786" font-size="16.3" fill="#222" text-anchor="start" >0.3</text>
<text x="1134.5" y="805.8" font-size="16.3" fill="#222" text-anchor="start" >0.4</text>
<text x="999.6" y="781.6" font-size="16.3" fill="#222" text-anchor="start" >5</text>
<text x="1000.7" y="824.5" font-size="16.3" fill="#222" text-anchor="start" >10</text>
<text x="1000.7" y="867.3" font-size="16.3" fill="#222" text-anchor="start" >15</text>
<text x="1000.7" y="910.7" font-size="16.3" fill="#222" text-anchor="start" >20</text>
<circle cx="997" cy="562.1" r="7.2" fill="#1aa6dc"/>
<circle cx="932.5" cy="696.4" r="7.2" fill="#1aa6dc"/>
<circle cx="1144.9" cy="647.3" r="7.2" fill="#1aa6dc"/>
<circle cx="1063.6" cy="772.2" r="7.2" fill="#1aa6dc"/>
<rect x="990.5" y="574.1" width="13" height="13" fill="#d84a5c"/>
<rect x="1142" y="639.5" width="13" height="13" fill="#d84a5c"/>
<rect x="1139.8" y="812.6" width="13" height="13" fill="#d84a5c"/>
<rect x="990.1" y="898.6" width="13" height="13" fill="#d84a5c"/>
<rect x="846" y="810.5" width="13" height="13" fill="#d84a5c"/>
<rect x="848.1" y="645.2" width="13" height="13" fill="#d84a5c"/>
<circle cx="1144.9" cy="647.3" r="7.2" fill="#1aa6dc"/>
<rect x="1146" y="641" width="7" height="13" fill="#d84a5c"/>
<polygon points="997,615.1 999.25,620.51 1005.08,620.97 1000.64,624.78 1002,630.48 997,627.43 992,630.48 993.36,624.78 988.92,620.97 994.75,620.51" fill="#c6d844"/>
<polygon points="1105.9,661.8 1108.15,667.21 1113.98,667.67 1109.54,671.48 1110.9,677.18 1105.9,674.12 1100.9,677.18 1102.26,671.48 1097.82,667.67 1103.65,667.21" fill="#c6d844"/>
<polygon points="997,784.9 999.25,790.31 1005.08,790.77 1000.64,794.58 1002,800.28 997,797.23 992,800.28 993.36,794.58 988.92,790.77 994.75,790.31" fill="#c6d844"/>
<polygon points="997,625.5 1003.66,630.34 1001.11,638.16 992.89,638.16 990.34,630.34" fill="#f2b6b8"/>
<polygon points="973,740.7 979.66,745.54 977.11,753.36 968.89,753.36 966.34,745.54" fill="#f2b6b8"/>
<polygon points="1034.7,748 1041.36,752.84 1038.81,760.66 1030.59,760.66 1028.04,752.84" fill="#f2b6b8"/>
<polygon points="1008.5,651.7 995,659.49 995,643.91" fill="#1e9a88"/>
<polygon points="976.5,732.6 967.84,717.6 985.16,717.6" fill="#6a66b4"/>
<polygon points="981.8,751.2 973.14,736.2 990.46,736.2" fill="#6a66b4"/>
<polygon points="1018.5,756.8 1009.84,741.8 1027.16,741.8" fill="#6a66b4"/>
<polygon points="996.5,738 1003.43,750 989.57,750" fill="#3aa85a"/>
<polygon points="996.5,713 1005.16,728 987.84,728" fill="#3aa85a"/>
<circle cx="1000" cy="733" r="6.5" fill="#20b8c0"/>
<polygon points="990.5,728 992.62,733.09 998.11,733.53 993.92,737.11 995.2,742.47 990.5,739.6 985.8,742.47 987.08,737.11 982.89,733.53 988.38,733.09" fill="#c6d844"/>
<polygon points="997,731.5 1004.13,736.68 1001.41,745.07 992.59,745.07 989.87,736.68" fill="#f2b6b8"/>
<text x="987" y="750.5" font-size="16.3" fill="#222" text-anchor="start" >00</text>
<text x="997" y="531" font-size="16.3" fill="#111" text-anchor="middle" >Production rate / mg/h</text>
<text x="1162" y="631" font-size="16.3" fill="#111" text-anchor="start" >Power / W</text>
<text x="698.5" y="632" font-size="16.3" fill="#111" text-anchor="start" >Energy yield / g/kWh</text>
<text x="1169" y="838" font-size="16.3" fill="#111" text-anchor="start" >Energy conversion</text>
<text x="1169" y="858" font-size="16.3" fill="#111" text-anchor="start" >efficiency / %</text>
<text x="706" y="860" font-size="16.3" fill="#111" text-anchor="start" >Discharge duration / h</text>
<text x="1008" y="937" font-size="16.3" fill="#111" text-anchor="middle" >Accumulation amount / mmol/L</text>
<rect x="1345.5" y="501" width="566.5" height="171" fill="#e9edf7"/>
<rect x="1345.5" y="672" width="566.5" height="233" fill="#fdf6e6"/>
<path d="M1399 567 L1404.8 562 L1410.3 563 L1415.8 561.2 L1424.9 566.6 L1439.5 570.3 L1437.7 575.8 L1441.3 578.5 L1434 577.6" fill="none" stroke="#a080e0" stroke-width="13" stroke-opacity="0.5" stroke-linejoin="round" stroke-linecap="round" filter="url(#fBlur3)"/>
<path d="M1399.3 570.3 L1406.6 588.5 L1415.8 606.8 L1423 614" fill="none" stroke="#a080e0" stroke-width="13" stroke-opacity="0.5" stroke-linejoin="round" stroke-linecap="round" filter="url(#fBlur3)"/>
<path d="M1468.7 592.2 L1474.2 599.5 L1470.5 606.8 L1476 614 L1485.1 625" fill="none" stroke="#a080e0" stroke-width="13" stroke-opacity="0.5" stroke-linejoin="round" stroke-linecap="round" filter="url(#fBlur3)"/>
<line x1="1409.4" y1="584" x2="1446.8" y2="607.7" stroke="#9aa0a8" stroke-width="3.5"/>
<line x1="1478.7" y1="581.2" x2="1446.8" y2="607.7" stroke="#9aa0a8" stroke-width="3"/>
<circle cx="1409.4" cy="584" r="13" fill="url(#gWhite)"/><text x="1405.6" y="586.2" font-size="19" font-weight="bold" fill="#111" text-anchor="middle">H</text>
<circle cx="1478.7" cy="581.2" r="13" fill="url(#gWhite)"/><text x="1474.9" y="583.4" font-size="19" font-weight="bold" fill="#111" text-anchor="middle">H</text>
<circle cx="1446.8" cy="607.7" r="18.5" fill="url(#gRed)"/><text x="1442.9" y="610.3" font-size="18" font-weight="bold" fill="#111" text-anchor="middle">O</text>
<path d="M1399 567 L1404.8 562 L1410.3 563 L1415.8 561.2 L1424.9 566.6 L1439.5 570.3 L1437.7 575.8 L1441.3 578.5 L1434 577.6" fill="none" stroke="#ffffff" stroke-width="1.6" stroke-linejoin="round"/>
<path d="M1399.3 570.3 L1406.6 588.5 L1415.8 606.8 L1423 614" fill="none" stroke="#ffffff" stroke-width="1.6" stroke-linejoin="round"/>
<path d="M1468.7 592.2 L1474.2 599.5 L1470.5 606.8 L1476 614 L1485.1 625" fill="none" stroke="#ffffff" stroke-width="1.6" stroke-linejoin="round"/>
<line x1="1510.7" y1="590" x2="1545.49" y2="573.24" stroke="#111" stroke-width="2.4"/><polygon points="1557.2,567.6 1548.31,579.1 1542.67,567.39" fill="#111"/>
<line x1="1510.7" y1="611.9" x2="1545.48" y2="628.58" stroke="#111" stroke-width="2.4"/><polygon points="1557.2,634.2 1542.67,634.44 1548.29,622.72" fill="#111"/>
<line x1="1592.8" y1="574.3" x2="1618.3" y2="542" stroke="#9aa0a8" stroke-width="3"/>
<circle cx="1618.3" cy="542" r="13" fill="url(#gWhite)"/><text x="1614.5" y="544.2" font-size="19" font-weight="bold" fill="#111" text-anchor="middle">H</text>
<circle cx="1592.8" cy="574.3" r="18.5" fill="url(#gRed)"/><text x="1588.9" y="576.9" font-size="18" font-weight="bold" fill="#111" text-anchor="middle">O</text>
<circle cx="1585.5" cy="649.7" r="13" fill="url(#gWhite)"/><text x="1581.7" y="651.9" font-size="19" font-weight="bold" fill="#111" text-anchor="middle">H</text>
<path d="M1636 564.3 H1647 M1641.5 559 V570" stroke="#111" stroke-width="2.2"/>
<line x1="1688.7" y1="577.4" x2="1718.2" y2="547" stroke="#9aa0a8" stroke-width="3"/>
<circle cx="1718.2" cy="547" r="13" fill="url(#gWhite)"/><text x="1714.4" y="549.2" font-size="19" font-weight="bold" fill="#111" text-anchor="middle">H</text>
<circle cx="1688.7" cy="577.4" r="18.5" fill="url(#gRed)"/><text x="1684.8" y="580" font-size="18" font-weight="bold" fill="#111" text-anchor="middle">O</text>
<line x1="1739.6" y1="571" x2="1773" y2="571" stroke="#111" stroke-width="2.4"/><polygon points="1786,571 1773,577.5 1773,564.5" fill="#111"/>
<line x1="1819.9" y1="573" x2="1878.1" y2="571.8" stroke="#9aa0a8" stroke-width="4"/>
<line x1="1819.9" y1="573" x2="1806" y2="613" stroke="#9aa0a8" stroke-width="2.5"/>
<line x1="1878.1" y1="571.8" x2="1891.2" y2="531.3" stroke="#9aa0a8" stroke-width="2.5"/>
<circle cx="1806" cy="613" r="13" fill="url(#gWhite)"/><text x="1802.2" y="615.2" font-size="19" font-weight="bold" fill="#111" text-anchor="middle">H</text>
<circle cx="1891.2" cy="531.3" r="13" fill="url(#gWhite)"/><text x="1887.4" y="533.5" font-size="19" font-weight="bold" fill="#111" text-anchor="middle">H</text>
<circle cx="1819.9" cy="573" r="18.5" fill="url(#gRed)"/><text x="1816" y="575.6" font-size="18" font-weight="bold" fill="#111" text-anchor="middle">O</text>
<circle cx="1878.1" cy="571.8" r="18.5" fill="url(#gRed)"/><text x="1874.2" y="574.4" font-size="18" font-weight="bold" fill="#111" text-anchor="middle">O</text>
<rect x="1646.4" y="620.3" width="126.6" height="45.7" fill="#f1dcdc" stroke="#e07030" stroke-width="2"/>
<text x="1665" y="644.5" font-size="22.7" fill="#222">C<tspan font-size="16.4" dy="6">H</tspan><tspan font-size="13" dy="-7">+</tspan></text>
<path d="M1720 628 V650 M1714 636 L1720 628 L1726 636" fill="none" stroke="#222" stroke-width="1.6"/>
<polyline points="1646.4,646 1634.8,646 1622.6,683.4" fill="none" stroke="#e07030" stroke-width="2"/>
<line x1="1601" y1="677.4" x2="1616.25" y2="711.15" stroke="#111" stroke-width="2.4"/><polygon points="1621.6,723 1610.32,713.83 1622.17,708.48" fill="#111"/>
<line x1="1377.52" y1="702.31" x2="1382.74" y2="714.82" stroke="#707070" stroke-width="2"/>
<line x1="1404.62" y1="731.5" x2="1388.99" y2="730.45" stroke="#707070" stroke-width="2"/>
<line x1="1404.62" y1="731.5" x2="1410.88" y2="746.09" stroke="#707070" stroke-width="2"/>
<line x1="1377.52" y1="741.92" x2="1388.99" y2="730.45" stroke="#707070" stroke-width="2"/>
<line x1="1377.52" y1="741.92" x2="1384.82" y2="757.55" stroke="#707070" stroke-width="2"/>
<line x1="1400.45" y1="758.6" x2="1410.88" y2="746.09" stroke="#707070" stroke-width="2"/>
<line x1="1400.45" y1="758.6" x2="1384.82" y2="757.55" stroke="#707070" stroke-width="2"/>
<line x1="1400.45" y1="758.6" x2="1406.71" y2="773.19" stroke="#707070" stroke-width="2"/>
<line x1="1374.4" y1="770.06" x2="1384.82" y2="757.55" stroke="#707070" stroke-width="2"/>
<line x1="1374.4" y1="770.06" x2="1381.69" y2="783.61" stroke="#707070" stroke-width="2"/>
<line x1="1421.3" y1="775.27" x2="1406.71" y2="773.19" stroke="#707070" stroke-width="2"/>
<line x1="1421.3" y1="775.27" x2="1431.72" y2="762.77" stroke="#707070" stroke-width="2"/>
<line x1="1396.29" y1="784.65" x2="1406.71" y2="773.19" stroke="#707070" stroke-width="2"/>
<line x1="1396.29" y1="784.65" x2="1381.69" y2="783.61" stroke="#707070" stroke-width="2"/>
<line x1="1372.31" y1="797.16" x2="1381.69" y2="783.61" stroke="#707070" stroke-width="2"/>
<line x1="1372.31" y1="797.16" x2="1378.57" y2="812.8" stroke="#707070" stroke-width="2"/>
<line x1="1372.31" y1="797.16" x2="1360.85" y2="796.12" stroke="#707070" stroke-width="2"/>
<line x1="1393.16" y1="813.84" x2="1378.57" y2="812.8" stroke="#707070" stroke-width="2"/>
<line x1="1393.16" y1="813.84" x2="1400.45" y2="827.39" stroke="#707070" stroke-width="2"/>
<line x1="1369.18" y1="824.26" x2="1378.57" y2="812.8" stroke="#707070" stroke-width="2"/>
<line x1="1369.18" y1="824.26" x2="1375.44" y2="838.86" stroke="#707070" stroke-width="2"/>
<line x1="1415.05" y1="829.47" x2="1400.45" y2="827.39" stroke="#707070" stroke-width="2"/>
<line x1="1415.05" y1="829.47" x2="1423.39" y2="844.07" stroke="#707070" stroke-width="2"/>
<line x1="1391.07" y1="841.98" x2="1400.45" y2="827.39" stroke="#707070" stroke-width="2"/>
<line x1="1391.07" y1="841.98" x2="1375.44" y2="838.86" stroke="#707070" stroke-width="2"/>
<line x1="1391.07" y1="841.98" x2="1399.41" y2="856.57" stroke="#707070" stroke-width="2"/>
<line x1="1366.06" y1="852.41" x2="1375.44" y2="838.86" stroke="#707070" stroke-width="2"/>
<line x1="1366.06" y1="852.41" x2="1374.4" y2="865.96" stroke="#707070" stroke-width="2"/>
<line x1="1414" y1="857.62" x2="1423.39" y2="844.07" stroke="#707070" stroke-width="2"/>
<line x1="1414" y1="857.62" x2="1399.41" y2="856.57" stroke="#707070" stroke-width="2"/>
<line x1="1390.03" y1="869.08" x2="1399.41" y2="856.57" stroke="#707070" stroke-width="2"/>
<line x1="1390.03" y1="869.08" x2="1374.4" y2="865.96" stroke="#707070" stroke-width="2"/>
<line x1="1365.02" y1="878.46" x2="1374.4" y2="865.96" stroke="#707070" stroke-width="2"/>
<line x1="1365.02" y1="878.46" x2="1354.59" y2="877.42" stroke="#707070" stroke-width="2"/>
<line x1="1365.02" y1="878.46" x2="1371.27" y2="890.97" stroke="#707070" stroke-width="2"/>
<line x1="1437.98" y1="845.11" x2="1423.39" y2="844.07" stroke="#707070" stroke-width="2"/>
<line x1="1437.98" y1="845.11" x2="1449.44" y2="832.6" stroke="#707070" stroke-width="2"/>
<line x1="1437.98" y1="845.11" x2="1444.23" y2="856.57" stroke="#707070" stroke-width="2"/>
<line x1="1447.36" y1="794.04" x2="1452.57" y2="806.54" stroke="#707070" stroke-width="2"/>
<line x1="1466.12" y1="806.54" x2="1452.57" y2="806.54" stroke="#707070" stroke-width="2"/>
<line x1="1466.12" y1="806.54" x2="1472.37" y2="821.14" stroke="#707070" stroke-width="2"/>
<line x1="1466.12" y1="806.54" x2="1475.5" y2="792.99" stroke="#707070" stroke-width="2"/>
<line x1="1444.23" y1="820.09" x2="1452.57" y2="806.54" stroke="#707070" stroke-width="2"/>
<line x1="1444.23" y1="820.09" x2="1449.44" y2="832.6" stroke="#707070" stroke-width="2"/>
<line x1="1485.92" y1="821.14" x2="1472.37" y2="821.14" stroke="#707070" stroke-width="2"/>
<line x1="1485.92" y1="821.14" x2="1495.31" y2="806.54" stroke="#707070" stroke-width="2"/>
<line x1="1462.99" y1="833.64" x2="1472.37" y2="821.14" stroke="#707070" stroke-width="2"/>
<line x1="1462.99" y1="833.64" x2="1449.44" y2="832.6" stroke="#707070" stroke-width="2"/>
<line x1="1509.9" y1="807.59" x2="1495.31" y2="806.54" stroke="#707070" stroke-width="2"/>
<line x1="1509.9" y1="807.59" x2="1516.15" y2="819.05" stroke="#707070" stroke-width="2"/>
<line x1="1509.9" y1="807.59" x2="1517.19" y2="796.12" stroke="#707070" stroke-width="2"/>
<line x1="1490.09" y1="792.99" x2="1495.31" y2="806.54" stroke="#707070" stroke-width="2"/>
<line x1="1490.09" y1="792.99" x2="1475.5" y2="792.99" stroke="#707070" stroke-width="2"/>
<line x1="1425.47" y1="747.13" x2="1410.88" y2="746.09" stroke="#707070" stroke-width="2"/>
<line x1="1425.47" y1="747.13" x2="1431.72" y2="762.77" stroke="#707070" stroke-width="2"/>
<line x1="1382.74" y1="714.82" x2="1388.99" y2="730.45" stroke="#707070" stroke-width="2"/>
<circle cx="1382.74" cy="714.82" r="5" fill="url(#gGrayC)"/>
<circle cx="1388.99" cy="730.45" r="5" fill="url(#gGrayC)"/>
<circle cx="1410.88" cy="746.09" r="5" fill="url(#gGrayC)"/>
<circle cx="1384.82" cy="757.55" r="5" fill="url(#gGrayC)"/>
<circle cx="1406.71" cy="773.19" r="5" fill="url(#gGrayC)"/>
<circle cx="1381.69" cy="783.61" r="5" fill="url(#gGrayC)"/>
<circle cx="1378.57" cy="812.8" r="5" fill="url(#gGrayC)"/>
<circle cx="1400.45" cy="827.39" r="5" fill="url(#gGrayC)"/>
<circle cx="1375.44" cy="838.86" r="5" fill="url(#gGrayC)"/>
<circle cx="1423.39" cy="844.07" r="5" fill="url(#gGrayC)"/>
<circle cx="1399.41" cy="856.57" r="5" fill="url(#gGrayC)"/>
<circle cx="1374.4" cy="865.96" r="5" fill="url(#gGrayC)"/>
<circle cx="1452.57" cy="806.54" r="5" fill="url(#gGrayC)"/>
<circle cx="1472.37" cy="821.14" r="5" fill="url(#gGrayC)"/>
<circle cx="1449.44" cy="832.6" r="5" fill="url(#gGrayC)"/>
<circle cx="1495.31" cy="806.54" r="5" fill="url(#gGrayC)"/>
<circle cx="1431.72" cy="762.77" r="5" fill="url(#gGrayC)"/>
<circle cx="1475.5" cy="792.99" r="5" fill="url(#gGrayC)"/>
<circle cx="1377.52" cy="702.31" r="5.3" fill="url(#gBlueN)"/>
<circle cx="1404.62" cy="731.5" r="5.3" fill="url(#gBlueN)"/>
<circle cx="1377.52" cy="741.92" r="5.3" fill="url(#gBlueN)"/>
<circle cx="1400.45" cy="758.6" r="5.3" fill="url(#gBlueN)"/>
<circle cx="1374.4" cy="770.06" r="5.3" fill="url(#gBlueN)"/>
<circle cx="1421.3" cy="775.27" r="5.3" fill="url(#gBlueN)"/>
<circle cx="1396.29" cy="784.65" r="5.3" fill="url(#gBlueN)"/>
<circle cx="1372.31" cy="797.16" r="5.3" fill="url(#gBlueN)"/>
<circle cx="1393.16" cy="813.84" r="5.3" fill="url(#gBlueN)"/>
<circle cx="1369.18" cy="824.26" r="5.3" fill="url(#gBlueN)"/>
<circle cx="1415.05" cy="829.47" r="5.3" fill="url(#gBlueN)"/>
<circle cx="1391.07" cy="841.98" r="5.3" fill="url(#gBlueN)"/>
<circle cx="1366.06" cy="852.41" r="5.3" fill="url(#gBlueN)"/>
<circle cx="1414" cy="857.62" r="5.3" fill="url(#gBlueN)"/>
<circle cx="1390.03" cy="869.08" r="5.3" fill="url(#gBlueN)"/>
<circle cx="1365.02" cy="878.46" r="5.3" fill="url(#gBlueN)"/>
<circle cx="1437.98" cy="845.11" r="5.3" fill="url(#gBlueN)"/>
<circle cx="1447.36" cy="794.04" r="5.3" fill="url(#gBlueN)"/>
<circle cx="1466.12" cy="806.54" r="5.3" fill="url(#gBlueN)"/>
<circle cx="1444.23" cy="820.09" r="5.3" fill="url(#gBlueN)"/>
<circle cx="1485.92" cy="821.14" r="5.3" fill="url(#gBlueN)"/>
<circle cx="1462.99" cy="833.64" r="5.3" fill="url(#gBlueN)"/>
<circle cx="1509.9" cy="807.59" r="5.3" fill="url(#gBlueN)"/>
<circle cx="1490.09" cy="792.99" r="5.3" fill="url(#gBlueN)"/>
<circle cx="1425.47" cy="747.13" r="5.3" fill="url(#gBlueN)"/>
<circle cx="1360.85" cy="796.12" r="3" fill="url(#gGrayC)"/>
<circle cx="1444.23" cy="856.57" r="3" fill="url(#gGrayC)"/>
<circle cx="1516.15" cy="819.05" r="3" fill="url(#gGrayC)"/>
<circle cx="1517.19" cy="796.12" r="3" fill="url(#gGrayC)"/>
<circle cx="1354.59" cy="877.42" r="3" fill="url(#gGrayC)"/>
<circle cx="1371.27" cy="890.97" r="3" fill="url(#gGrayC)"/>
<circle cx="1396.29" cy="742.96" r="4.5" fill="url(#gRed)"/>
<circle cx="1390.03" cy="755.47" r="4.5" fill="url(#gRed)"/>
<ellipse cx="1487" cy="749" rx="58" ry="43" transform="rotate(-28 1487 749)" fill="#f8c634" fill-opacity="0.85"/>
<circle cx="1506" cy="726" r="14" fill="#e060a0" fill-opacity="0.35" filter="url(#fBlur3)"/>
<line x1="1457.5" y1="765.5" x2="1495" y2="729" stroke="#9aa0a8" stroke-width="1.6"/>
<line x1="1462.3" y1="770.5" x2="1499.8" y2="734" stroke="#9aa0a8" stroke-width="1.6"/>
<circle cx="1459.9" cy="768" r="18.5" fill="url(#gRed)"/><text x="1456" y="770.6" font-size="18" font-weight="bold" fill="#111" text-anchor="middle">O</text>
<circle cx="1497.4" cy="731.5" r="18.5" fill="url(#gRed)"/><text x="1493.5" y="734.1" font-size="18" font-weight="bold" fill="#111" text-anchor="middle">O</text>
<path d="M1508 716 L1512 712 L1520 714 L1516 722 L1522 728 L1514 734 L1524 742 M1447 785 L1452 777 L1448 781" fill="none" stroke="#ffffff" stroke-width="1.6"/>
<path d="M1514 800 L1532 797 C 1542 840, 1590 872, 1645 873 C 1690 872, 1720 840, 1734 803 L 1723.7 803.3 L 1747.6 782.7 L 1767.1 801.2 L 1754 801 C 1738 850, 1700 876, 1645 875 C 1575 874, 1520 850, 1514 800 Z" fill="url(#gGArrow)"/>
<circle cx="1618.3" cy="766.4" r="13" fill="url(#gGray)"/><text x="1611.3" y="768.4" font-size="17" font-weight="bold" fill="#111" text-anchor="middle">H</text><text x="1621.3" y="763.4" font-size="12" font-weight="bold" fill="#111" text-anchor="middle">+</text>
<circle cx="1651.6" cy="762" r="13" fill="url(#gGray)"/><text x="1644.6" y="764" font-size="17" font-weight="bold" fill="#111" text-anchor="middle">H</text><text x="1654.6" y="759" font-size="12" font-weight="bold" fill="#111" text-anchor="middle">+</text>
<circle cx="1684.6" cy="776.2" r="13" fill="url(#gGray)"/><text x="1677.6" y="778.2" font-size="17" font-weight="bold" fill="#111" text-anchor="middle">H</text><text x="1687.6" y="773.2" font-size="12" font-weight="bold" fill="#111" text-anchor="middle">+</text>
<circle cx="1589.5" cy="788.1" r="13" fill="url(#gGray)"/><text x="1582.5" y="790.1" font-size="17" font-weight="bold" fill="#111" text-anchor="middle">H</text><text x="1592.5" y="785.1" font-size="12" font-weight="bold" fill="#111" text-anchor="middle">+</text>
<circle cx="1642.2" cy="793.5" r="13" fill="url(#gGray)"/><text x="1635.2" y="795.5" font-size="17" font-weight="bold" fill="#111" text-anchor="middle">H</text><text x="1645.2" y="790.5" font-size="12" font-weight="bold" fill="#111" text-anchor="middle">+</text>
<circle cx="1677.6" cy="812" r="13" fill="url(#gGray)"/><text x="1670.6" y="814" font-size="17" font-weight="bold" fill="#111" text-anchor="middle">H</text><text x="1680.6" y="809" font-size="12" font-weight="bold" fill="#111" text-anchor="middle">+</text>
<circle cx="1611.2" cy="820.3" r="13" fill="url(#gGray)"/><text x="1604.2" y="822.3" font-size="17" font-weight="bold" fill="#111" text-anchor="middle">H</text><text x="1614.2" y="817.3" font-size="12" font-weight="bold" fill="#111" text-anchor="middle">+</text>
<circle cx="1647.2" cy="829.4" r="13" fill="url(#gGray)"/><text x="1640.2" y="831.4" font-size="17" font-weight="bold" fill="#111" text-anchor="middle">H</text><text x="1650.2" y="826.4" font-size="12" font-weight="bold" fill="#111" text-anchor="middle">+</text>
<line x1="1766" y1="707.3" x2="1811.6" y2="743.6" stroke="#9aa0a8" stroke-width="4"/>
<line x1="1730.2" y1="729.5" x2="1766" y2="707.3" stroke="#9aa0a8" stroke-width="2.5"/>
<line x1="1811.6" y1="743.6" x2="1848.5" y2="720.8" stroke="#9aa0a8" stroke-width="2.5"/>
<circle cx="1730.2" cy="729.5" r="13" fill="url(#gWhite)"/><text x="1726.4" y="731.7" font-size="19" font-weight="bold" fill="#111" text-anchor="middle">H</text>
<circle cx="1848.5" cy="720.8" r="13" fill="url(#gWhite)"/><text x="1844.7" y="723" font-size="19" font-weight="bold" fill="#111" text-anchor="middle">H</text>
<circle cx="1766" cy="707.3" r="18.5" fill="url(#gRed)"/><text x="1762.1" y="709.9" font-size="18" font-weight="bold" fill="#111" text-anchor="middle">O</text>
<circle cx="1811.6" cy="743.6" r="18.5" fill="url(#gRed)"/><text x="1807.7" y="746.2" font-size="18" font-weight="bold" fill="#111" text-anchor="middle">O</text>
<rect x="1725.8" y="848.9" width="173.3" height="45.6" fill="#fbe2cc" stroke="#e07030" stroke-width="2"/>
<text x="1733.4" y="874.2" font-size="23.3" fill="#111" text-anchor="start" >pH buffering</text>
<polyline points="1725.8,884.8 1704,884.8 1661.8,876.7" fill="none" stroke="#e07030" stroke-width="2"/>
<clipPath id="cpLow"><rect x="1500" y="501" width="200" height="40"/></clipPath><g clip-path="url(#cpLow)" opacity="0.45"><text transform="translate(1573.82,427) rotate(-90)" x="0" y="0" font-size="21.4" text-anchor="end">Diamond</text><text transform="translate(1671.9,427) rotate(-90)" x="0" y="0" font-size="21.4" text-anchor="end">C<tspan font-size="14.55" dy="5.35">3</tspan><tspan dy="-5.35">N</tspan><tspan font-size="14.55" dy="5.35">4</tspan><tspan dy="-5.35">-CN</tspan></text></g>
</svg>
</body></html>
